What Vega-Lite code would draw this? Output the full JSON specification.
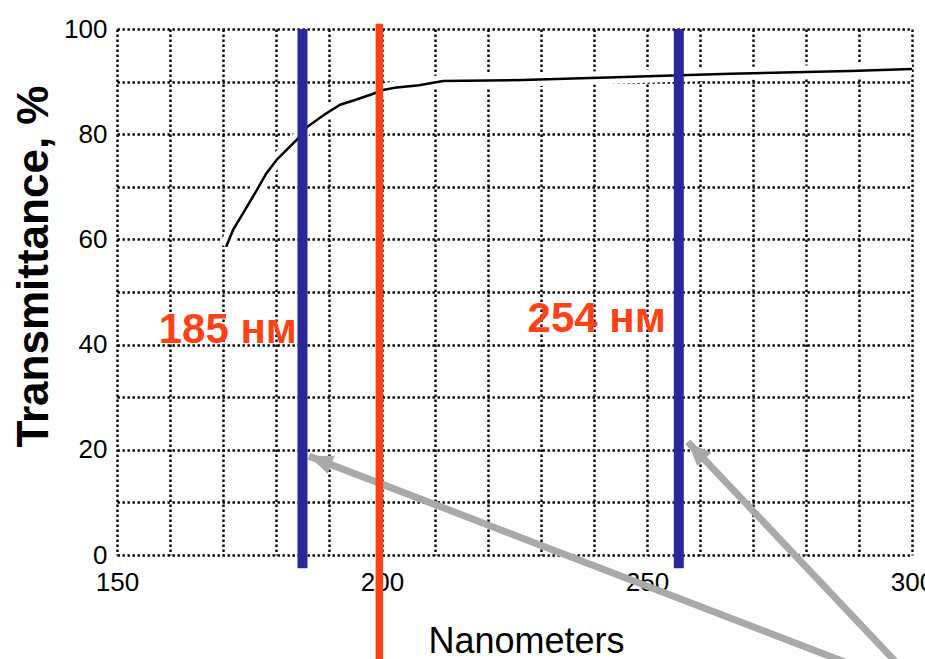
{
  "$schema": "https://vega.github.io/schema/vega-lite/v6.json",
  "width": 795,
  "height": 526,
  "autosize": "none",
  "padding": {"left": 117, "top": 29, "right": 13, "bottom": 104},
  "background": "white",
  "config": {
    "font": "Liberation Sans",
    "view": {"stroke": null}
  },
  "datasets": {
    "curve": [
      {"nm": 170.6, "t": 58.6},
      {"nm": 171.9, "t": 61.8},
      {"nm": 174.5, "t": 66.2},
      {"nm": 176.4, "t": 69.4},
      {"nm": 178.2, "t": 72.6},
      {"nm": 180.1, "t": 75.1},
      {"nm": 182.0, "t": 77.0},
      {"nm": 183.9, "t": 78.9},
      {"nm": 185.9, "t": 81.4},
      {"nm": 189.1, "t": 83.7},
      {"nm": 192.1, "t": 85.6},
      {"nm": 194.9, "t": 86.5},
      {"nm": 198.1, "t": 87.6},
      {"nm": 200.2, "t": 88.4},
      {"nm": 202.8, "t": 88.9},
      {"nm": 207.0, "t": 89.3},
      {"nm": 211.5, "t": 90.1},
      {"nm": 226.5, "t": 90.3},
      {"nm": 242.5, "t": 90.8},
      {"nm": 265.7, "t": 91.5},
      {"nm": 288.3, "t": 92.0},
      {"nm": 300.0, "t": 92.4}
    ],
    "blue": [
      {"nm": 185, "t": -2.5, "t2": 100},
      {"nm": 256, "t": -2.5, "t2": 100}
    ],
    "red": [
      {"nm": 199.5, "t": -22, "t2": 101}
    ],
    "labels": [
      {"nm": 170.9, "t": 40.3, "text": "185 нм"},
      {"nm": 240.5, "t": 42.4, "text": "254 нм"}
    ],
    "arrows": [
      {"id": 1, "nm": 186.2, "t": 18.8},
      {"id": 1, "nm": 292.1, "t": -22.2},
      {"id": 2, "nm": 257.7, "t": 21.5},
      {"id": 2, "nm": 298.7, "t": -22.2}
    ],
    "heads": [
      {"id": 1, "nm": 186.2, "t": 18.8},
      {"id": 2, "nm": 257.7, "t": 21.5}
    ]
  },
  "layer": [
    {
      "data": {"name": "curve"},
      "mark": {"type": "line", "color": "white", "strokeWidth": 13},
      "encoding": {
        "x": {
          "field": "nm", "type": "quantitative",
          "scale": {"domain": [150, 300], "nice": false, "zero": false},
          "axis": {
            "title": "Nanometers",
            "values": [150,160,170,180,190,200,210,220,230,240,250,260,270,280,290,300],
            "labelExpr": "datum.value % 50 === 0 ? datum.label : ''",
            "labelFontSize": 26, "labelColor": "black", "labelPadding": 14,
            "labelFlush": false, "labelOverlap": false,
            "domain": false, "ticks": false,
            "grid": true, "gridColor": "black", "gridWidth": 2.4, "gridDash": [2.4, 2.6], "gridOpacity": 1,
            "titleFontSize": 36, "titleFontWeight": "normal", "titleColor": "black",
            "titleX": 409, "titleY": 97, "titleAlign": "center", "titleBaseline": "alphabetic"
          }
        },
        "y": {
          "field": "t", "type": "quantitative",
          "scale": {"domain": [0, 100], "nice": false},
          "axis": {
            "title": "Transmittance, %",
            "values": [0,10,20,30,40,50,60,70,80,90,100],
            "labelExpr": "datum.value % 20 === 0 ? datum.label : ''",
            "labelFontSize": 26, "labelColor": "black", "labelPadding": 10,
            "labelFlush": false, "labelOverlap": false,
            "domain": false, "ticks": false,
            "grid": true, "gridColor": "black", "gridWidth": 2.4, "gridDash": [2.4, 2.6], "gridOpacity": 1,
            "titleFontSize": 44, "titleFontWeight": "bold", "titleColor": "black",
            "titleAngle": -90, "titleX": -70, "titleY": 237, "titleAlign": "center", "titleBaseline": "alphabetic"
          }
        }
      }
    },
    {
      "data": {"name": "curve"},
      "mark": {"type": "line", "color": "black", "strokeWidth": 2.5},
      "encoding": {
        "x": {"field": "nm", "type": "quantitative"},
        "y": {"field": "t", "type": "quantitative"}
      }
    },
    {
      "data": {"name": "arrows"},
      "mark": {"type": "line", "color": "#a9a9a9", "strokeWidth": 7, "strokeCap": "butt"},
      "encoding": {
        "x": {"field": "nm", "type": "quantitative"},
        "y": {"field": "t", "type": "quantitative"},
        "detail": {"field": "id", "type": "nominal"}
      }
    },
    {
      "data": {"name": "heads"},
      "transform": [{"filter": "datum.id === 1"}],
      "mark": {"type": "point", "shape": "M0,0 L-0.8,2 L0.8,2 Z", "filled": true, "color": "#a9a9a9", "opacity": 1, "size": 576, "angle": 291},
      "encoding": {
        "x": {"field": "nm", "type": "quantitative"},
        "y": {"field": "t", "type": "quantitative"}
      }
    },
    {
      "data": {"name": "heads"},
      "transform": [{"filter": "datum.id === 2"}],
      "mark": {"type": "point", "shape": "M0,0 L-0.8,2 L0.8,2 Z", "filled": true, "color": "#a9a9a9", "opacity": 1, "size": 576, "angle": 317},
      "encoding": {
        "x": {"field": "nm", "type": "quantitative"},
        "y": {"field": "t", "type": "quantitative"}
      }
    },
    {
      "data": {"name": "blue"},
      "mark": {"type": "rule", "color": "#28289b", "strokeWidth": 10},
      "encoding": {
        "x": {"field": "nm", "type": "quantitative"},
        "y": {"field": "t", "type": "quantitative"},
        "y2": {"field": "t2"}
      }
    },
    {
      "data": {"name": "red"},
      "mark": {"type": "rule", "color": "#ff4216", "strokeWidth": 7.5},
      "encoding": {
        "x": {"field": "nm", "type": "quantitative"},
        "y": {"field": "t", "type": "quantitative"},
        "y2": {"field": "t2"}
      }
    },
    {
      "data": {"name": "labels"},
      "mark": {"type": "text", "color": "#ff4216", "fontSize": 42, "fontWeight": "bold", "font": "Liberation Sans", "align": "center", "baseline": "alphabetic"},
      "encoding": {
        "x": {"field": "nm", "type": "quantitative"},
        "y": {"field": "t", "type": "quantitative"},
        "text": {"field": "text"}
      }
    }
  ]
}
